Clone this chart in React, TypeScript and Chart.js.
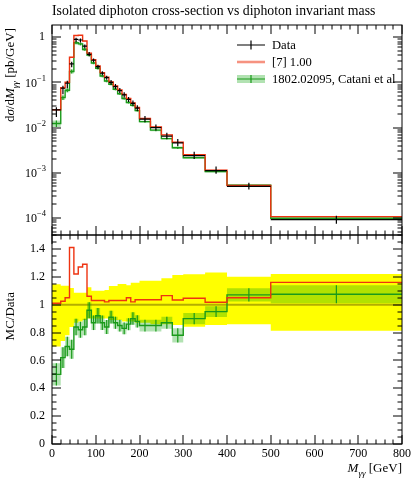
import React, { useEffect, useRef } from "react";
import { Chart, registerables } from "chart.js";

Chart.register(...registerables);

const SERIF = "'Liberation Serif', 'DejaVu Serif', serif";

// ---------------- data ----------------
const binEdges = [0, 20, 30, 40, 50, 60, 70, 80, 90, 100, 110, 120, 130, 140, 150, 160, 170, 180, 190, 200, 225, 250, 275, 300, 350, 400, 500, 800];

const dataValues = [0.0247, 0.0745, 0.096, 0.257, 0.9, 0.87, 0.64, 0.42, 0.31, 0.224, 0.16, 0.128, 0.1, 0.081, 0.066, 0.053, 0.042, 0.0345, 0.027, 0.0154, 0.01, 0.0065, 0.0046, 0.0024, 0.00112, 0.0005, 0.000092];
const dataBandUp = [1.146, 1.135, 1.135, 1.12, 1.086, 1.086, 1.086, 1.125, 1.1, 1.1, 1.1, 1.105, 1.134, 1.134, 1.149, 1.149, 1.14, 1.158, 1.158, 1.172, 1.172, 1.19, 1.213, 1.218, 1.23, 1.2, 1.22];
const dataBandDown = [0.7, 0.74, 0.78, 0.84, 0.87, 0.88, 0.89, 0.9, 0.9, 0.9, 0.9, 0.9, 0.89, 0.89, 0.89, 0.88, 0.88, 0.88, 0.87, 0.87, 0.86, 0.86, 0.854, 0.842, 0.854, 0.859, 0.813];

const mcValues = [0.0249, 0.0764, 0.1008, 0.362, 1.098, 1.105, 0.826, 0.445, 0.319, 0.231, 0.165, 0.1306, 0.103, 0.0834, 0.068, 0.0546, 0.0441, 0.0352, 0.0279, 0.0159, 0.01035, 0.00692, 0.00476, 0.00251, 0.00114, 0.000525, 0.000107];
const mcRelErr = [0.02, 0.02, 0.02, 0.02, 0.02, 0.02, 0.02, 0.02, 0.02, 0.02, 0.02, 0.02, 0.02, 0.02, 0.02, 0.02, 0.02, 0.02, 0.02, 0.02, 0.02, 0.02, 0.02, 0.02, 0.02, 0.02, 0.02];

const nnloValues = [0.01235, 0.0462, 0.0672, 0.175, 0.756, 0.713, 0.538, 0.403, 0.27, 0.206, 0.139, 0.1075, 0.091, 0.0705, 0.0561, 0.044, 0.0361, 0.0311, 0.0238, 0.01355, 0.0088, 0.00572, 0.00359, 0.00216, 0.00106, 0.000535, 0.0000989];
const nnloRelErr = [0.16, 0.12, 0.1, 0.1, 0.07, 0.07, 0.07, 0.06, 0.06, 0.06, 0.06, 0.06, 0.05, 0.05, 0.05, 0.05, 0.05, 0.05, 0.05, 0.05, 0.05, 0.05, 0.065, 0.045, 0.04, 0.045, 0.06];

const ratioMC = [1.01, 1.025, 1.05, 1.41, 1.22, 1.27, 1.29, 1.06, 1.03, 1.03, 1.03, 1.02, 1.03, 1.03, 1.03, 1.03, 1.05, 1.02, 1.035, 1.035, 1.035, 1.065, 1.034, 1.046, 1.017, 1.05, 1.16];
const ratioNNLO = [0.5, 0.62, 0.7, 0.68, 0.84, 0.82, 0.84, 0.96, 0.87, 0.92, 0.87, 0.84, 0.91, 0.87, 0.85, 0.83, 0.86, 0.9, 0.88, 0.85, 0.85, 0.87, 0.78, 0.9, 0.95, 1.07, 1.075];

const xTickValues = [0, 100, 200, 300, 400, 500, 600, 700, 800];
const logTickValues = [1, 0.1, 0.01, 0.001, 0.0001];
const logTickExponents = ["", "−1", "−2", "−3", "−4"];
const ratioTickValues = [0, 0.2, 0.4, 0.6, 0.8, 1, 1.2, 1.4];
const ratioTickLabels = ["0", "0.2", "0.4", "0.6", "0.8", "1", "1.2", "1.4"];

const titleText = "Isolated diphoton cross-section vs diphoton invariant mass";
const legendLabels = ["Data", "[7] 1.00", "1802.02095, Catani et al"];

// ---------------- styles ----------------
const RED = "#ee3311";
const GREEN = "#1a9a1a";
const GREEN_BAND = "rgba(0,160,0,0.3)";
const RED_BAND = "rgba(238,51,17,0.3)";
const YELLOW = "#ffff00";

const X_MIN = 0, X_MAX = 800;
const TOP_MIN = 4.2e-5, TOP_MAX = 1.87;
const R_MIN = 0, R_MAX = 1.5;

type Piece = { t: string; it?: boolean; sub?: boolean };

function stepPoints(values: number[]) {
  return binEdges.map((e, i) => ({ x: e, y: values[Math.min(i, values.length - 1)] }));
}

function setFont(ctx: CanvasRenderingContext2D, size: number, italic = false) {
  ctx.font = `${italic ? "italic " : ""}${size}px ${SERIF}`;
}

function richWidth(ctx: CanvasRenderingContext2D, pieces: Piece[], size: number) {
  let w = 0;
  for (const p of pieces) {
    setFont(ctx, p.sub ? size * 0.7 : size, !!p.it);
    w += ctx.measureText(p.t).width;
  }
  return w;
}

function drawRich(ctx: CanvasRenderingContext2D, pieces: Piece[], size: number, x: number, y: number) {
  let cx = x;
  ctx.textAlign = "left";
  ctx.textBaseline = "alphabetic";
  for (const p of pieces) {
    const s = p.sub ? size * 0.7 : size;
    setFont(ctx, s, !!p.it);
    ctx.fillText(p.t, cx, y + (p.sub ? size * 0.28 : 0));
    cx += ctx.measureText(p.t).width;
  }
}

function drawFrame(ctx: CanvasRenderingContext2D, a: any) {
  ctx.save();
  ctx.strokeStyle = "#000";
  ctx.lineWidth = 1;
  ctx.strokeRect(a.left, a.top, a.right - a.left, a.bottom - a.top);
  ctx.restore();
}

function drawXTicks(ctx: CanvasRenderingContext2D, xs: any, a: any) {
  ctx.save();
  ctx.strokeStyle = "#000";
  ctx.lineWidth = 1;
  for (let v = X_MIN; v <= X_MAX; v += 20) {
    const major = xTickValues.includes(v);
    const len = major ? 9 : 4.5;
    const x = Math.round(xs.getPixelForValue(v));
    ctx.beginPath();
    ctx.moveTo(x, a.top);
    ctx.lineTo(x, a.top + len);
    ctx.moveTo(x, a.bottom);
    ctx.lineTo(x, a.bottom - len);
    ctx.stroke();
  }
  ctx.restore();
}

function drawYTick(ctx: CanvasRenderingContext2D, a: any, y: number, len: number) {
  ctx.beginPath();
  ctx.moveTo(a.left, y);
  ctx.lineTo(a.left + len, y);
  ctx.moveTo(a.right, y);
  ctx.lineTo(a.right - len, y);
  ctx.stroke();
}

// ---------------- plugins ----------------
const topPlugin = {
  id: "topPlugin",
  afterDatasetsDraw(chart: any) {
    const { ctx, chartArea: a, scales } = chart;
    const xs = scales.x, ys = scales.y;
    ctx.save();
    ctx.beginPath();
    ctx.rect(a.left, a.top, a.right - a.left, a.bottom - a.top);
    ctx.clip();
    // green error bars
    ctx.strokeStyle = GREEN;
    ctx.lineWidth = 1.2;
    nnloValues.forEach((v, i) => {
      const xc = xs.getPixelForValue((binEdges[i] + binEdges[i + 1]) / 2);
      ctx.beginPath();
      ctx.moveTo(xc, ys.getPixelForValue(v * (1 + nnloRelErr[i])));
      ctx.lineTo(xc, ys.getPixelForValue(v * (1 - nnloRelErr[i])));
      ctx.stroke();
    });
    // data crosses
    ctx.strokeStyle = "#000";
    ctx.lineWidth = 1.2;
    dataValues.forEach((v, i) => {
      const x0 = xs.getPixelForValue(binEdges[i]);
      const x1 = xs.getPixelForValue(binEdges[i + 1]);
      const xc = xs.getPixelForValue((binEdges[i] + binEdges[i + 1]) / 2);
      const y = ys.getPixelForValue(v);
      ctx.beginPath();
      ctx.moveTo(x0, y);
      ctx.lineTo(x1, y);
      ctx.moveTo(xc, ys.getPixelForValue(v * dataBandUp[i]));
      ctx.lineTo(xc, ys.getPixelForValue(v * dataBandDown[i]));
      ctx.stroke();
    });
    ctx.restore();

    // frame & ticks
    drawFrame(ctx, a);
    drawXTicks(ctx, xs, a);
    ctx.save();
    ctx.strokeStyle = "#000";
    ctx.lineWidth = 1;
    for (let d = -5; d <= 0; d++) {
      for (let m = 1; m <= 9; m++) {
        const v = m * Math.pow(10, d);
        if (v < TOP_MIN || v > TOP_MAX) continue;
        const y = Math.round(ys.getPixelForValue(v));
        drawYTick(ctx, a, y, m === 1 ? 9 : 4.5);
      }
    }
    ctx.restore();

    // y tick labels
    ctx.save();
    ctx.fillStyle = "#000";
    logTickValues.forEach((v, i) => {
      const y = ys.getPixelForValue(v);
      const exp = logTickExponents[i];
      ctx.textBaseline = "middle";
      if (!exp) {
        setFont(ctx, 12);
        ctx.textAlign = "right";
        ctx.fillText("1", a.left - 7, y);
      } else {
        setFont(ctx, 8.5);
        const ew = ctx.measureText(exp).width;
        ctx.textAlign = "right";
        ctx.fillText(exp, a.left - 6, y - 4);
        setFont(ctx, 12);
        ctx.fillText("10", a.left - 6 - ew, y + 1);
      }
    });
    ctx.restore();

    // title
    ctx.save();
    ctx.fillStyle = "#000";
    setFont(ctx, 13.8);
    ctx.textAlign = "left";
    ctx.textBaseline = "alphabetic";
    ctx.fillText(titleText, a.left, 15);
    ctx.restore();

    // y axis label (rotated)
    const yl: Piece[] = [
      { t: "d" }, { t: "σ", it: true }, { t: "/d" }, { t: "M", it: true }, { t: "γγ", it: true, sub: true }, { t: " [pb/GeV]" },
    ];
    ctx.save();
    ctx.fillStyle = "#000";
    const w = richWidth(ctx, yl, 13);
    ctx.translate(14, 28 + w);
    ctx.rotate(-Math.PI / 2);
    drawRich(ctx, yl, 13, 0, 0);
    ctx.restore();

    // legend
    ctx.save();
    const lx0 = 237, lx1 = 265, lxc = 251, tx = 272;
    const rows = [45, 62, 79];
    // Data
    ctx.strokeStyle = "#000";
    ctx.lineWidth = 1.2;
    ctx.beginPath();
    ctx.moveTo(lx0, rows[0]);
    ctx.lineTo(lx1, rows[0]);
    ctx.moveTo(lxc, rows[0] - 4.5);
    ctx.lineTo(lxc, rows[0] + 4.5);
    ctx.stroke();
    // MC
    ctx.fillStyle = RED_BAND;
    ctx.fillRect(lx0, rows[1] - 1.5, lx1 - lx0, 3);
    ctx.strokeStyle = "rgba(238,51,17,0.55)";
    ctx.lineWidth = 1.2;
    ctx.beginPath();
    ctx.moveTo(lx0, rows[1]);
    ctx.lineTo(lx1, rows[1]);
    ctx.stroke();
    // NNLO
    ctx.fillStyle = GREEN_BAND;
    ctx.fillRect(lx0, rows[2] - 4, lx1 - lx0, 8);
    ctx.strokeStyle = GREEN;
    ctx.beginPath();
    ctx.moveTo(lx0, rows[2]);
    ctx.lineTo(lx1, rows[2]);
    ctx.moveTo(lxc, rows[2] - 4);
    ctx.lineTo(lxc, rows[2] + 4);
    ctx.stroke();
    ctx.fillStyle = "#000";
    setFont(ctx, 12.6);
    ctx.textAlign = "left";
    ctx.textBaseline = "middle";
    legendLabels.forEach((l, i) => ctx.fillText(l, tx, rows[i] + 0.5));
    ctx.restore();
  },
};

const bottomPlugin = {
  id: "bottomPlugin",
  afterDatasetsDraw(chart: any) {
    const { ctx, chartArea: a, scales } = chart;
    const xs = scales.x, ys = scales.y;
    ctx.save();
    ctx.beginPath();
    ctx.rect(a.left, a.top, a.right - a.left, a.bottom - a.top);
    ctx.clip();
    ctx.strokeStyle = GREEN;
    ctx.lineWidth = 1.2;
    ratioNNLO.forEach((v, i) => {
      const xc = xs.getPixelForValue((binEdges[i] + binEdges[i + 1]) / 2);
      ctx.beginPath();
      ctx.moveTo(xc, ys.getPixelForValue(v * (1 + nnloRelErr[i])));
      ctx.lineTo(xc, ys.getPixelForValue(v * (1 - nnloRelErr[i])));
      ctx.stroke();
    });
    ctx.restore();

    drawFrame(ctx, a);
    drawXTicks(ctx, xs, a);
    ctx.save();
    ctx.strokeStyle = "#000";
    ctx.lineWidth = 1;
    for (let k = 0; k <= 30; k++) {
      const v = k * 0.05;
      const y = Math.round(ys.getPixelForValue(v));
      drawYTick(ctx, a, y, k % 4 === 0 ? 9 : 4.5);
    }
    ctx.restore();

    ctx.save();
    ctx.fillStyle = "#000";
    setFont(ctx, 12);
    ctx.textAlign = "right";
    ctx.textBaseline = "middle";
    ratioTickValues.forEach((v, i) => ctx.fillText(ratioTickLabels[i], a.left - 7, ys.getPixelForValue(v)));
    ctx.textAlign = "center";
    ctx.textBaseline = "middle";
    xTickValues.forEach((v) => ctx.fillText(String(v), xs.getPixelForValue(v), a.bottom + 10));
    ctx.restore();

    // x label
    const xl: Piece[] = [{ t: "M", it: true }, { t: "γγ", it: true, sub: true }, { t: " [GeV]" }];
    ctx.save();
    ctx.fillStyle = "#000";
    const w = richWidth(ctx, xl, 13);
    drawRich(ctx, xl, 13, a.right - w, a.bottom + 28);
    ctx.restore();

    // y label
    ctx.save();
    ctx.fillStyle = "#000";
    setFont(ctx, 13);
    const yw = ctx.measureText("MC/Data").width;
    ctx.translate(14, a.top + 57 + yw);
    ctx.rotate(-Math.PI / 2);
    ctx.textAlign = "left";
    ctx.textBaseline = "alphabetic";
    ctx.fillText("MC/Data", 0, 0);
    ctx.restore();
  },
};

function lineDs(label: string, values: number[], color: string, width: number, order: number, extra: any = {}) {
  return {
    label,
    data: stepPoints(values),
    borderColor: color,
    borderWidth: width,
    pointRadius: 0,
    stepped: true,
    fill: false,
    order,
    ...extra,
  };
}

export default function App() {
  const topRef = useRef<HTMLCanvasElement>(null);
  const botRef = useRef<HTMLCanvasElement>(null);

  useEffect(() => {
    document.body.style.margin = "0";
    const greenLo = nnloValues.map((v, i) => v * (1 - nnloRelErr[i]));
    const greenHi = nnloValues.map((v, i) => v * (1 + nnloRelErr[i]));
    const redLo = mcValues.map((v, i) => v * (1 - mcRelErr[i]));
    const redHi = mcValues.map((v, i) => v * (1 + mcRelErr[i]));

    const top = new Chart(topRef.current!, {
      type: "line",
      data: {
        datasets: [
          lineDs("gl", greenLo, "rgba(0,0,0,0)", 0, 10),
          lineDs("gh", greenHi, "rgba(0,0,0,0)", 0, 9, { fill: "-1", backgroundColor: GREEN_BAND }),
          lineDs("rl", redLo, "rgba(0,0,0,0)", 0, 8),
          lineDs("rh", redHi, "rgba(0,0,0,0)", 0, 7, { fill: "-1", backgroundColor: RED_BAND }),
          lineDs("nnlo", nnloValues, GREEN, 1.4, 2),
          lineDs("mc", mcValues, RED, 1.4, 1),
        ],
      },
      options: {
        animation: false,
        responsive: false,
        events: [],
        layout: { padding: { left: 52, right: 13, top: 25, bottom: 5 } },
        plugins: { legend: { display: false }, tooltip: { enabled: false }, title: { display: false } },
        scales: {
          x: { type: "linear", min: X_MIN, max: X_MAX, display: false },
          y: { type: "logarithmic", min: TOP_MIN, max: TOP_MAX, display: false },
        },
      },
      plugins: [topPlugin],
    });

    const ratioLo = ratioNNLO.map((v, i) => v * (1 - nnloRelErr[i]));
    const ratioHi = ratioNNLO.map((v, i) => v * (1 + nnloRelErr[i]));
    const unity = binEdges.map(() => 1);

    const bot = new Chart(botRef.current!, {
      type: "line",
      data: {
        datasets: [
          lineDs("dl", dataBandDown, "rgba(0,0,0,0)", 0, 20),
          lineDs("dh", dataBandUp, "rgba(0,0,0,0)", 0, 19, { fill: "-1", backgroundColor: YELLOW }),
          lineDs("one", unity, "#b4ae00", 2, 15),
          lineDs("gl", ratioLo, "rgba(0,0,0,0)", 0, 12),
          lineDs("gh", ratioHi, "rgba(0,0,0,0)", 0, 11, { fill: "-1", backgroundColor: GREEN_BAND }),
          lineDs("nnlo", ratioNNLO, GREEN, 1.4, 2),
          lineDs("mc", ratioMC, RED, 1.4, 1),
        ],
      },
      options: {
        animation: false,
        responsive: false,
        events: [],
        layout: { padding: { left: 52, right: 13, top: 5, bottom: 36 } },
        plugins: { legend: { display: false }, tooltip: { enabled: false }, title: { display: false } },
        scales: {
          x: { type: "linear", min: X_MIN, max: X_MAX, display: false },
          y: { type: "linear", min: R_MIN, max: R_MAX, display: false },
        },
      },
      plugins: [bottomPlugin],
    });

    return () => {
      top.destroy();
      bot.destroy();
    };
  }, []);

  return (
    <div style={{ position: "relative", width: 415, height: 480, background: "#fff" }}>
      <canvas ref={topRef} width={415} height={240} style={{ position: "absolute", left: 0, top: 0 }} />
      <canvas ref={botRef} width={415} height={250} style={{ position: "absolute", left: 0, top: 230 }} />
    </div>
  );
}
